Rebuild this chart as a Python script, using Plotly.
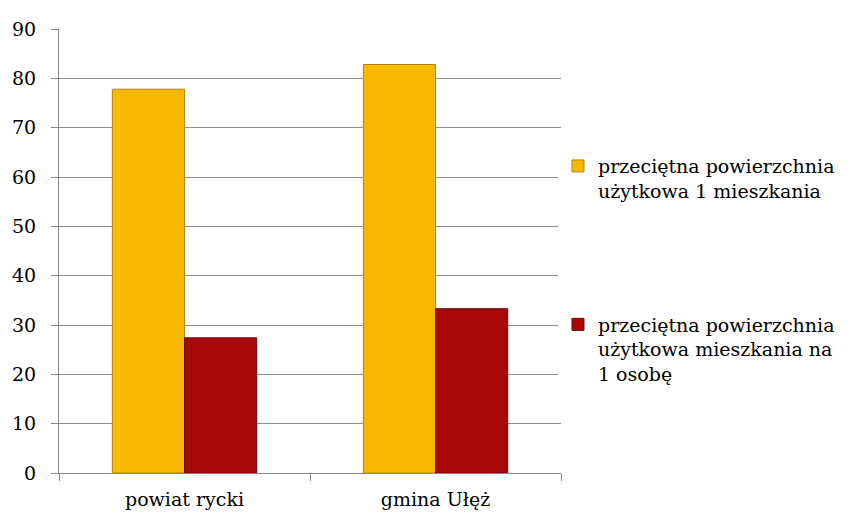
import plotly.graph_objects as go

categories = ["powiat rycki", "gmina Ułęż"]
series_names = ["przeciętna powierzchnia<br>użytkowa 1 mieszkania",
                "przeciętna powierzchnia<br>użytkowa mieszkania na<br>1 osobę"]
avg_dwelling = [77.8, 82.8]
per_person = [27.4, 33.3]
y_ticks = [0, 10, 20, 30, 40, 50, 60, 70, 80, 90]

FONT = "DejaVu Serif"

fig = go.Figure()
fig.add_trace(go.Bar(
    x=categories, y=avg_dwelling, name=series_names[0], legendgroup="a",
    marker=dict(color="#F7B800", line=dict(color="#B88400", width=1)),
))
fig.add_trace(go.Bar(
    x=categories, y=per_person, name=series_names[1], legendgroup="b",
    marker=dict(color="#A80808", line=dict(color="#6E0404", width=1)),
))

# page body has an 8px offset; margins compensate so the plot area is at x 59-561, y 29-473
fig.update_layout(
    width=855, height=518,
    margin=dict(l=51, r=302, t=21, b=53),
    paper_bgcolor="white", plot_bgcolor="white",
    barmode="group", bargap=0.425, bargroupgap=0,
    font=dict(family=FONT, size=19, color="#000"),
    legend=dict(x=0.994, y=0.734, xanchor="left", yanchor="top",
                valign="top", tracegroupgap=106,
                font=dict(family=FONT, size=19, color="#000"),
                itemwidth=30),
    showlegend=True,
)
fig.update_xaxes(
    type="category", tickson="boundaries", ticks="outside", ticklen=7,
    tickcolor="#888", showline=True, linecolor="#888", linewidth=1,
    showgrid=False, tickfont=dict(family=FONT, size=19), ticklabelstandoff=9,
    automargin=False,
)
fig.update_yaxes(
    range=[0, 90], tickvals=y_ticks, ticks="outside", ticklen=7,
    tickcolor="#888", showline=True, linecolor="#888", linewidth=1,
    showgrid=True, gridcolor="#8c8c8c", gridwidth=1, zeroline=False,
    tickfont=dict(family=FONT, size=19), ticklabelstandoff=11,
    automargin=False,
)
fig.add_shape(type="rect", xref="paper", yref="paper",
              x0=-0.1096, x1=1.5837, y0=-0.13, y1=1.0495,
              line=dict(color="#efefef", width=1), layer="below")

fig.write_html("out.html")
